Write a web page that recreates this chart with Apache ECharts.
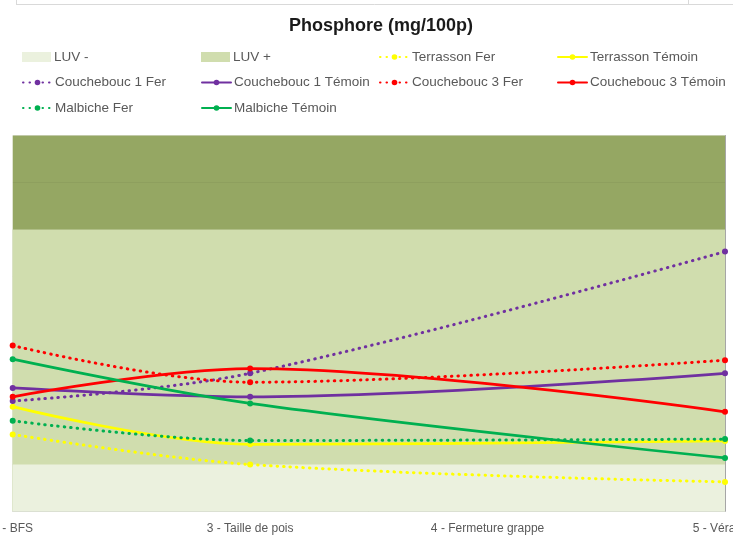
<!DOCTYPE html>
<html>
<head>
<meta charset="utf-8">
<script src="https://cdn.jsdelivr.net/npm/echarts@6/dist/echarts.min.js"></script>
<style>
  html, body { margin: 0; padding: 0; background: #ffffff; }
  #chart { width: 733px; height: 544px; }
</style>
</head>
<body>
<div id="chart"></div>
<script>
// Growth stages on the x axis
const categories = ['2 - BFS', '3 - Taille de pois', '4 - Fermeture grappe', '5 - Véraison'];

// Reference bands (upper limit of each zone)
const luvMinus = [10, 10, 10, 10];
const luvPlus = [60, 60, 60, 60];

// Phosphorus per plot, mg/100 berries (no sample at "Fermeture grappe")
const terrassonFer = [16.4, 10.0, null, 6.3];
const terrassonTemoin = [22.3, 14.3, null, 15.0];
const couchebouc1Fer = [23.5, 29.4, null, 55.3];
const couchebouc1Temoin = [26.3, 24.4, null, 29.4];
const couchebouc3Fer = [35.3, 27.5, null, 32.2];
const couchebouc3Temoin = [24.4, 30.4, null, 21.2];
const malbicheFer = [19.3, 15.1, null, 15.4];
const malbicheTemoin = [32.4, 23.0, null, 11.4];

const COL = {
  yellow: '#ffff00', purple: '#7030a0', red: '#ff0000', green: '#00b050',
  luvMinus: '#ebf1de', luvPlus: '#d0ddae', top: '#95a763'
};

function band(name, data, color, z) {
  return {
    name, type: 'line', data, z,
    symbol: 'none', silent: true,
    itemStyle: { color },
    lineStyle: { width: 0, color },
    areaStyle: { color, opacity: 1 }
  };
}

function measure(name, data, color, dotted) {
  return {
    name, type: 'line', data, z: 5,
    smooth: 0.35, connectNulls: true,
    symbol: 'circle', symbolSize: 6,
    itemStyle: { color },
    lineStyle: dotted
      ? { color, width: 3, type: [0.5, 6], cap: 'round' }
      : { color, width: 2.75, type: 'solid', cap: 'round' }
  };
}

const series = [
  band('LUV +', luvPlus, COL.luvPlus, 1),
  band('LUV -', luvMinus, COL.luvMinus, 2),
  measure('Terrasson Fer', terrassonFer, COL.yellow, true),
  measure('Terrasson Témoin', terrassonTemoin, COL.yellow, false),
  measure('Couchebouc 1 Fer', couchebouc1Fer, COL.purple, true),
  measure('Couchebouc 1 Témoin', couchebouc1Temoin, COL.purple, false),
  measure('Couchebouc 3 Fer', couchebouc3Fer, COL.red, true),
  measure('Couchebouc 3 Témoin', couchebouc3Temoin, COL.red, false),
  measure('Malbiche Fer', malbicheFer, COL.green, true),
  measure('Malbiche Témoin', malbicheTemoin, COL.green, false)
];

// Legend laid out as a 4-column table
const legendOrder = [
  'LUV -', 'LUV +', 'Terrasson Fer', 'Terrasson Témoin',
  'Couchebouc 1 Fer', 'Couchebouc 1 Témoin', 'Couchebouc 3 Fer', 'Couchebouc 3 Témoin',
  'Malbiche Fer', 'Malbiche Témoin'
];
const colX = [22, 201, 379, 557];
const rowY = [58, 83.5, 109];
const legends = legendOrder.map((name, i) => {
  const isBand = name.startsWith('LUV');
  const h = isBand ? 10 : 7;
  return {
    data: [isBand ? { name, icon: 'rect' } : { name }],
    left: colX[i % 4],
    top: rowY[Math.floor(i / 4)] - 8,
    padding: 0,
    itemWidth: 29,
    itemHeight: h,
    selectedMode: false,
    textStyle: { color: '#595959', fontSize: 13.5, fontFamily: 'Liberation Sans', padding: [0, 0, 0, -2] }
  };
});

const chart = echarts.init(document.getElementById('chart'), null, { renderer: 'canvas' });
chart.setOption({
  animation: false,
  backgroundColor: '#ffffff',
  title: {
    text: 'Phosphore (mg/100p)',
    left: 284, top: 12,
    textStyle: { fontFamily: 'Liberation Sans', fontWeight: 'bold', fontSize: 18, color: '#1a1a1a' }
  },
  legend: legends,
  grid: {
    left: 12.7, right: 8, top: 135.5, bottom: 32.5,
    containLabel: false, outerBoundsMode: 'none',
    show: true, backgroundColor: COL.top, borderWidth: 0
  },
  xAxis: {
    type: 'category', data: categories, boundaryGap: false,
    axisLine: { show: true, lineStyle: { color: '#d9d9d9', width: 1 } },
    axisTick: { show: false },
    axisLabel: { interval: 0, hideOverlap: false, color: '#595959', fontSize: 12, fontFamily: 'Liberation Sans', margin: 11 },
    splitLine: { show: false }
  },
  yAxis: [
    {
      type: 'value', min: 0, max: 80, interval: 10,
      axisLabel: { show: false }, axisLine: { show: false }, axisTick: { show: false },
      splitLine: { show: true, lineStyle: { color: 'rgba(0,0,0,0.045)', width: 1 } }
    },
    {
      type: 'value', min: 0, max: 80, interval: 10, position: 'right',
      axisLabel: { show: false }, axisTick: { show: false }, splitLine: { show: false },
      axisLine: { show: true, lineStyle: { color: '#a6a6a6', width: 1 } }
    }
  ],
  graphic: [
    { type: 'line', shape: { x1: 16, y1: 4.5, x2: 733, y2: 4.5 }, style: { stroke: '#d9d9d9', lineWidth: 1 }, silent: true },
    { type: 'line', shape: { x1: 16.5, y1: 0, x2: 16.5, y2: 4.5 }, style: { stroke: '#d9d9d9', lineWidth: 1 }, silent: true },
    { type: 'line', shape: { x1: 688.5, y1: 0, x2: 688.5, y2: 4.5 }, style: { stroke: '#d9d9d9', lineWidth: 1 }, silent: true }
  ],
  series
});
</script>
</body>
</html>
